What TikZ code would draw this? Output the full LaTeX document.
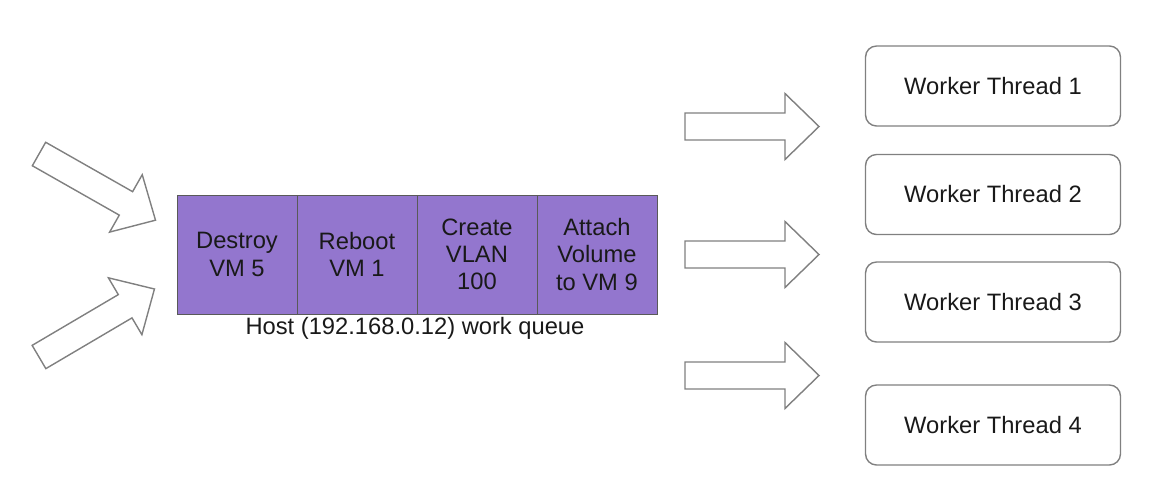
\documentclass[tikz,border=0pt]{standalone}
\usepackage{fontspec}
\setmainfont{Liberation Sans}
\usetikzlibrary{positioning}

\definecolor{qpurple}{RGB}{147,118,206}
\definecolor{edgegray}{RGB}{128,128,128}

\tikzset{
  cell/.style={draw=black!65,fill=qpurple,minimum width=2.4cm,minimum height=2.38cm,
    inner sep=0pt,outer sep=0pt,align=center,text=black!90,
    font=\fontsize{13.5}{15.5}\selectfont},
  worker/.style={draw=edgegray,line width=0.8pt,rounded corners=0.22cm,
    minimum width=5.1cm,minimum height=1.6cm,text=black!90,
    font=\fontsize{13.5}{15.5}\selectfont},
  pics/fatarrow/.style={code={
    \draw[draw=edgegray,fill=white,line width=0.8pt,line join=miter]
      (0,-13.5) -- (100,-13.5) -- (100,-33) -- (134,0) -- (100,33) -- (100,13.5) -- (0,13.5) -- cycle;
  }}
}

\begin{document}
\begin{tikzpicture}[x=0.02cm,y=-0.02cm]
  \useasboundingbox (0,0) rectangle (1160,494);

  % incoming requests
  \pic[rotate=-29.6] at (39,154) {fatarrow};
  \pic[rotate=30.5] at (39,357) {fatarrow};

  % the host work queue
  \node[cell] (q1) at (237,254.5) {Destroy\\VM 5};
  \node[cell,right=0pt of q1] (q2) {Reboot\\VM 1};
  \node[cell,right=0pt of q2] (q3) {Create\\VLAN\\100};
  \node[cell,right=0pt of q3] (q4) {Attach\\Volume\\to VM 9};
  \node[text=black!90,font=\fontsize{13.5}{15.5}\selectfont] (hostlbl) at (415,328) {Host (192.168.0.12) work queue};

  % handed to the workers
  \pic at (685,126.5) {fatarrow};
  \pic at (685,254.5) {fatarrow};
  \pic at (685,375.5) {fatarrow};

  \node[worker] (wt1) at (993,86) {Worker Thread 1};
  \node[worker] (wt2) at (993,194.5) {Worker Thread 2};
  \node[worker] (wt3) at (993,302) {Worker Thread 3};
  \node[worker] (wt4) at (993,425) {Worker Thread 4};
\end{tikzpicture}
\end{document}
